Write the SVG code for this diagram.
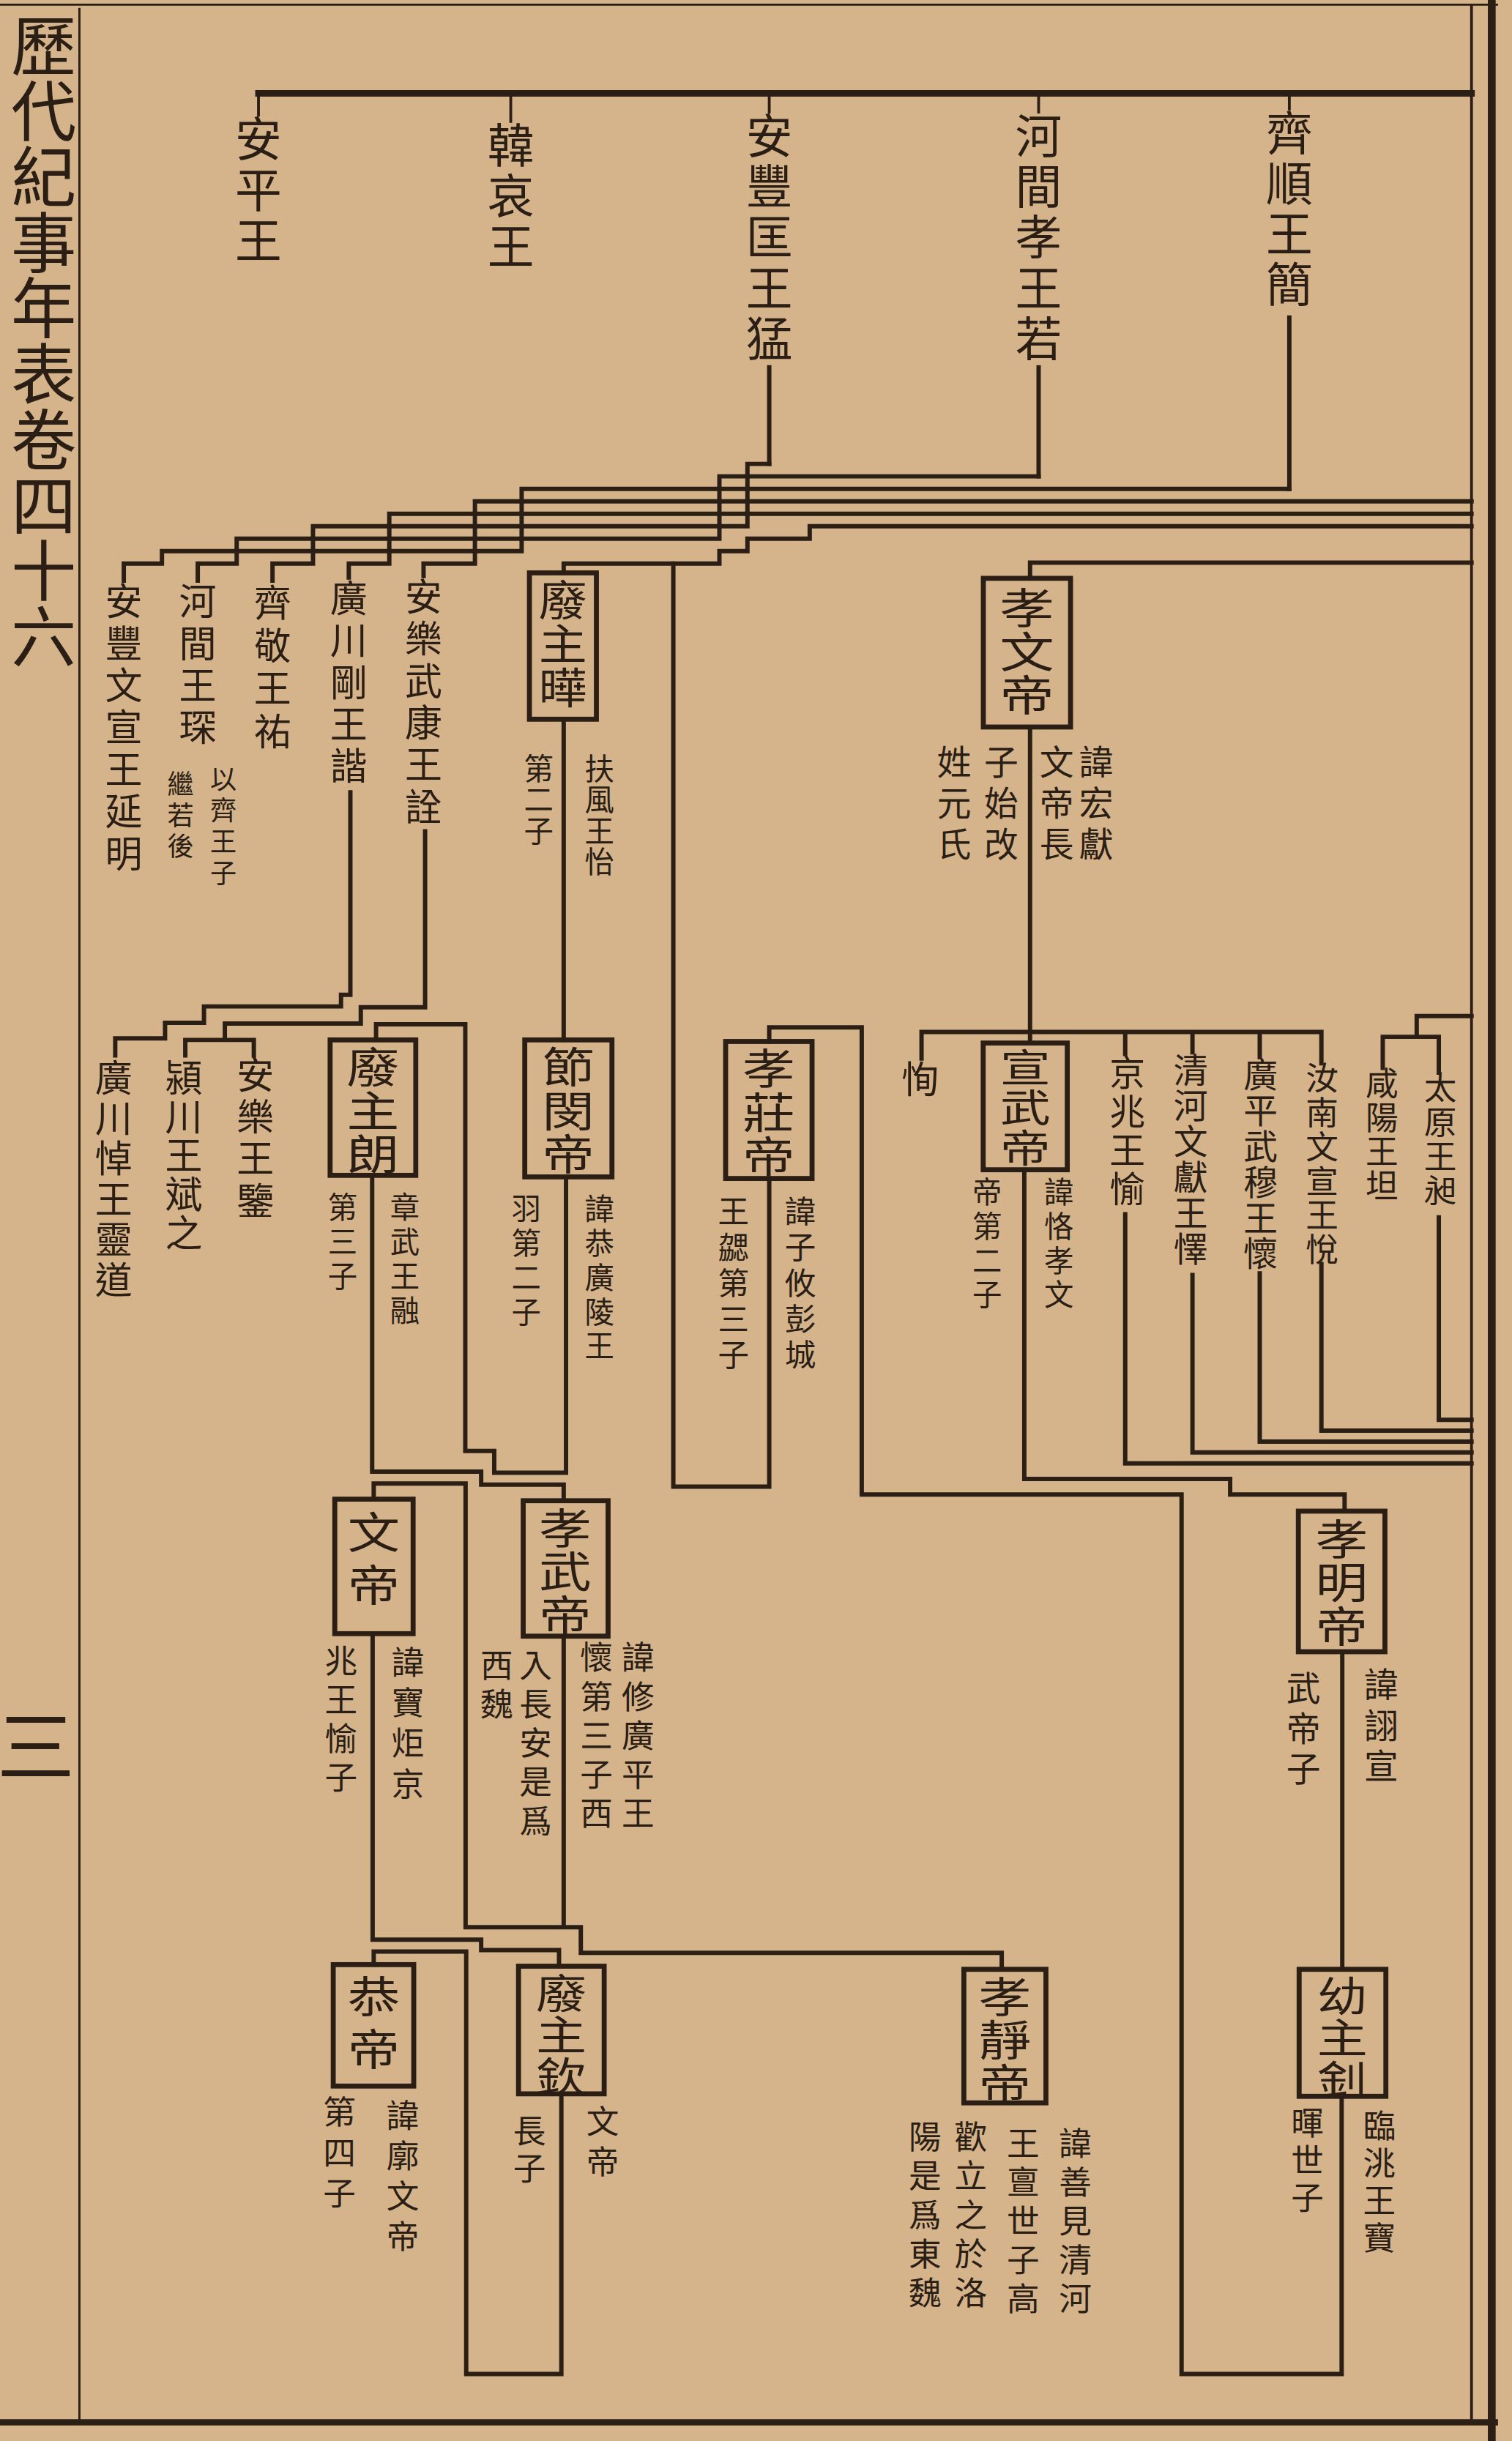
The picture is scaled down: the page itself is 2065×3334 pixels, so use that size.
<svg xmlns="http://www.w3.org/2000/svg" width="2065" height="3334" viewBox="0 0 2065 3334">
<style>
.ln{fill:none;stroke:#2a1e15;stroke-width:2.8;stroke-linejoin:miter;stroke-linecap:square}
.thin{fill:none;stroke:#2a1e15;stroke-width:1.4}
.bx{fill:none;stroke:#2a1e15;stroke-width:3.2}
.v{font-family:"Noto Sans CJK TC","Noto Sans CJK JP",sans-serif;writing-mode:vertical-rl;fill:#2a1e15}
.t{font-size:42px;letter-spacing:0.2px}
.n1{font-size:30px;letter-spacing:2.5px}
.n2{font-size:24px;letter-spacing:3px}
.b{font-size:27px;letter-spacing:1px}
.a{font-size:21px;letter-spacing:4px}
.s{font-size:19px;letter-spacing:3px}
.m{font-size:17px;letter-spacing:3px}
</style>
<rect width="2065" height="3334" fill="#d5b48b"/>
<g transform="scale(2.12667 2.12628)">
<g id="frame">
<line class="thin" x1="0" y1="3" x2="962" y2="3"/>
<line class="thin" x1="51" y1="5" x2="51" y2="1556"/>
<line class="thin" x1="945" y1="3" x2="945" y2="1556" style="stroke-width:1.8"/>
<line class="thin" x1="958" y1="0" x2="958" y2="1568" style="stroke-width:5"/>
<line class="thin" x1="0" y1="1556" x2="962" y2="1556" style="stroke-width:4"/>
</g>
<g id="title">
<text class="v t" x="28" y="8">歷代紀事年表卷四十六</text>
<text x="23" y="1119" font-family="Noto Sans CJK TC, sans-serif" font-size="50" text-anchor="middle" dominant-baseline="central" fill="#2a1e15">三</text>
</g>
<g id="connectors">
<path class="ln" style="stroke-width:4.2" d="M166,60 H945"/>
<path class="ln" style="stroke-width:1.8" d="M166,60 V74 M328,60 V78 M494,60 V72 M667,60 V72 M828,60 V70"/>
<path class="ln" d="M494,236 V298 M667,236 V306 M828,204 V314"/>
<path class="ln" d="M79.5,373 V362 H104 V354 H152 V346 H201 V338 H250 V330 H305 V322 H335 V314 H462 V306 H480 V298 H494"/>
<path class="ln" d="M127,373 V362 H152 V354 H201 V346 H250 V338 H305 V330 H335 V322 H462 V314 H480 V306 H667"/>
<path class="ln" d="M175,373 V362 H201 V354 H250 V346 H305 V338 H335 V330 H462 V322 H480 V314 H828"/>
<path class="ln" d="M224,371 V362 H250 V354 H305 V346 H335 V338 H462 V330 H480 V322 H945"/>
<path class="ln" d="M272,370 V362 H305 V354 H335 V346 H462 V338 H480 V330 H945"/>
<path class="ln" d="M362,368 V362 H462 V354 H480 V346 H520 V338 H945"/>
<path class="ln" d="M661.5,371.5 V361.4 H945"/>
<path class="ln" d="M225,509 V639 H219 V646.5 H131 V657 H106 V667 H74 V678"/>
<path class="ln" d="M273,534 V647 H231.7 V657.5 H144.4 V668 M119,678 V668 H163 V678"/>
<path class="ln" d="M362,462 V668"/>
<path class="ln" d="M363.5,756 V946 H317.4 V932 H298.8 V658 H241.5 V668"/>
<path class="ln" d="M494,757 V955 H432.4 V362"/>
<path class="ln" d="M861.6,1347 V1525 H758.8 V960 H553.4 V660 H494 V669"/>
<path class="ln" d="M239,755 V945.3 H309 V953.7 H362 V964"/>
<path class="ln" d="M240,963 V953 H299 V1238 H373 V1254.4 H643.3 V1265 M362,1051 V1238"/>
<path class="ln" d="M239.3,1049.4 V1246 H309 V1252.7 H359 V1263"/>
<path class="ln" d="M360.5,1345 V1525 H299.4 V1253.6 H240 V1262"/>
<path class="ln" d="M661.5,467 V670 M591.8,680 V662.9 H848.6 V683 M722.6,662.9 V677 M765.8,662.9 V676 M809,662.9 V679"/>
<path class="ln" d="M657.8,751.4 V950 H790 V960 H863.5 V970.7"/>
<path class="ln" d="M722.6,780 V940 H945 M765.8,819 V933 H945 M809,818 V926 H945 M848.6,812 V919 H945 M924,782 V912 H945"/>
<path class="ln" d="M945,652.7 H909.8 V666 M888,686 V666 H924 V689"/>
<path class="ln" d="M862,1061 V1265"/>
</g>
<g id="n-anping"><text class="v n1" x="166" y="74">安平王</text></g>
<g id="n-hanai"><text class="v n1" x="328" y="78">韓哀王</text></g>
<g id="n-anfeng-kuang"><text class="v n1" x="494" y="72">安豐匡王猛</text></g>
<g id="n-hejian-xiao"><text class="v n1" x="667" y="72">河間孝王若</text></g>
<g id="n-qi-shun"><text class="v n1" x="828" y="70">齊順王簡</text></g>
<g id="n-anfeng-wx"><text class="v n2" x="79.5" y="374">安豐文宣王延明</text></g>
<g id="n-hejian-chen"><text class="v n2" x="127" y="374">河間王琛</text><text class="v m" x="143.5" y="492">以齊王子</text><text class="v m" x="116" y="495">繼若後</text></g>
<g id="n-qi-jing"><text class="v n2" x="175" y="375" style="letter-spacing:3.5px">齊敬王祐</text></g>
<g id="n-guangchuan-gang"><text class="v n2" x="224" y="372">廣川剛王諧</text></g>
<g id="n-anle-wk"><text class="v n2" x="272" y="371">安樂武康王詮</text></g>
<g id="n-feizhu-ye"><rect class="bx" x="340" y="368" width="43" height="94"/><text class="v b" x="0" y="372" transform="translate(361.5 0) scale(1.15 1)">廢主曄</text><text class="v s" x="385" y="484" style="letter-spacing:1px">扶風王怡</text><text class="v s" x="346" y="484" style="letter-spacing:1px">第二子</text></g>
<g id="n-xiaowen"><rect class="bx" x="631.5" y="371.5" width="56" height="95.5"/><text class="v b" x="0" y="377" transform="translate(659.5 0) scale(1.3 1)">孝文帝</text><text class="v a" x="704" y="478" style="font-size:22px;letter-spacing:4.5px">諱宏獻</text><text class="v a" x="678.6" y="478" style="font-size:22px;letter-spacing:4.5px">文帝長</text><text class="v a" x="643" y="478" style="font-size:22px;letter-spacing:4.5px">子始改</text><text class="v a" x="612.8" y="478" style="font-size:22px;letter-spacing:4.5px">姓元氏</text></g>
<g id="n-xun"><text class="v n2" x="591" y="681">恂</text></g>
<g id="n-xuanwu"><rect class="bx" x="631.4" y="670" width="54" height="81.4"/><text class="v b" x="0" y="673" transform="translate(658.4 0) scale(1.3 1)" style="font-size:25px">宣武帝</text><text class="v s" x="680" y="756">諱恪孝文</text><text class="v s" x="634" y="756">帝第二子</text></g>
<g id="n-jingzhao"><text class="v n2" x="724" y="677" style="font-size:23px;letter-spacing:2px">京兆王愉</text></g>
<g id="n-qinghe"><text class="v n2" x="764.6" y="676" style="font-size:22px;letter-spacing:1px">清河文獻王懌</text></g>
<g id="n-guangping"><text class="v n2" x="809.5" y="679" style="font-size:22px;letter-spacing:1px">廣平武穆王懷</text></g>
<g id="n-runan"><text class="v n2" x="849" y="682" style="font-size:21px;letter-spacing:1px">汝南文宣王悅</text></g>
<g id="n-xianyang"><text class="v n2" x="887.5" y="685" style="font-size:21px;letter-spacing:1px">咸陽王坦</text></g>
<g id="n-taiyuan"><text class="v n2" x="925" y="688" style="font-size:21px;letter-spacing:1px">太原王昶</text></g>
<g id="n-anle-jian"><text class="v n2" x="164" y="678">安樂王鑒</text></g>
<g id="n-yingchuan"><text class="v n2" x="118" y="680" style="letter-spacing:1px">潁川王斌之</text></g>
<g id="n-guangchuan-dao"><text class="v n2" x="73" y="680" style="letter-spacing:2px">廣川悼王靈道</text></g>
<g id="n-feizhu-lang"><rect class="bx" x="212" y="668" width="55" height="87"/><text class="v b" x="0" y="672" transform="translate(239.5 0) scale(1.25 1)">廢主朗</text><text class="v s" x="260" y="766">章武王融</text><text class="v s" x="220" y="766">第三子</text></g>
<g id="n-jiemin"><rect class="bx" x="337" y="668" width="56" height="88"/><text class="v b" x="0" y="672" transform="translate(365 0) scale(1.25 1)">節閔帝</text><text class="v s" x="385" y="767">諱恭廣陵王</text><text class="v s" x="338" y="767">羽第二子</text></g>
<g id="n-xiaozhuang"><rect class="bx" x="466" y="669" width="55.5" height="88"/><text class="v b" x="0" y="673" transform="translate(493.7 0) scale(1.25 1)">孝莊帝</text><text class="v s" x="514" y="768" style="font-size:20px">諱子攸彭城</text><text class="v s" x="471" y="768" style="font-size:20px">王勰第三子</text></g>
<g id="n-wendi"><rect class="bx" x="215" y="963" width="50.3" height="86.4"/><text class="v b" x="0" y="970" transform="translate(240 0) scale(1.2 1)" style="font-size:28px;letter-spacing:6px">文帝</text><text class="v a" x="262" y="1057" style="letter-spacing:5px">諱寶炬京</text><text class="v a" x="219" y="1056">兆王愉子</text></g>
<g id="n-xiaowu"><rect class="bx" x="336" y="964" width="54.5" height="87"/><text class="v b" x="0" y="968" transform="translate(363 0) scale(1.25 1)">孝武帝</text><text class="v a" x="409.7" y="1054">諱修廣平王</text><text class="v a" x="383" y="1054">懷第三子西</text><text class="v a" x="344" y="1059">入長安是爲</text><text class="v a" x="319" y="1059">西魏</text></g>
<g id="n-xiaoming"><rect class="bx" x="833.8" y="970.7" width="55.6" height="90.3"/><text class="v b" x="0" y="975" transform="translate(861.6 0) scale(1.25 1)">孝明帝</text><text class="v a" x="887" y="1071" style="font-size:22px">諱詡宣</text><text class="v a" x="837" y="1073" style="font-size:22px">武帝子</text></g>
<g id="n-gongdi"><rect class="bx" x="214" y="1262" width="51.7" height="78"/><text class="v b" x="0" y="1268" transform="translate(240 0) scale(1.2 1)" style="font-size:28px;letter-spacing:6px">恭帝</text><text class="v a" x="258.6" y="1348" style="letter-spacing:5px">諱廓文帝</text><text class="v a" x="218" y="1346" style="letter-spacing:5px">第四子</text></g>
<g id="n-feizhu-qin"><rect class="bx" x="333" y="1263" width="55" height="82"/><text class="v b" x="0" y="1267" transform="translate(360.5 0) scale(1.25 1)" style="font-size:26px">廢主欽</text><text class="v a" x="387" y="1352" style="letter-spacing:5px">文帝</text><text class="v a" x="340" y="1358" style="letter-spacing:3px">長子</text></g>
<g id="n-xiaojing"><rect class="bx" x="619" y="1265" width="52.7" height="85.8"/><text class="v b" x="0" y="1269" transform="translate(645.3 0) scale(1.25 1)">孝靜帝</text><text class="v a" x="690.6" y="1366">諱善見清河</text><text class="v a" x="657" y="1366">王亶世子高</text><text class="v a" x="623.4" y="1362">歡立之於洛</text><text class="v a" x="594" y="1362">陽是爲東魏</text></g>
<g id="n-youzhu"><rect class="bx" x="834.3" y="1265" width="55.7" height="81.6"/><text class="v b" x="0" y="1269" transform="translate(862 0) scale(1.25 1)" style="font-size:26px">幼主釗</text><text class="v a" x="885.8" y="1355" style="letter-spacing:3px">臨洮王寶</text><text class="v a" x="839.6" y="1353" style="letter-spacing:3px">暉世子</text></g>
</g>
</svg>
